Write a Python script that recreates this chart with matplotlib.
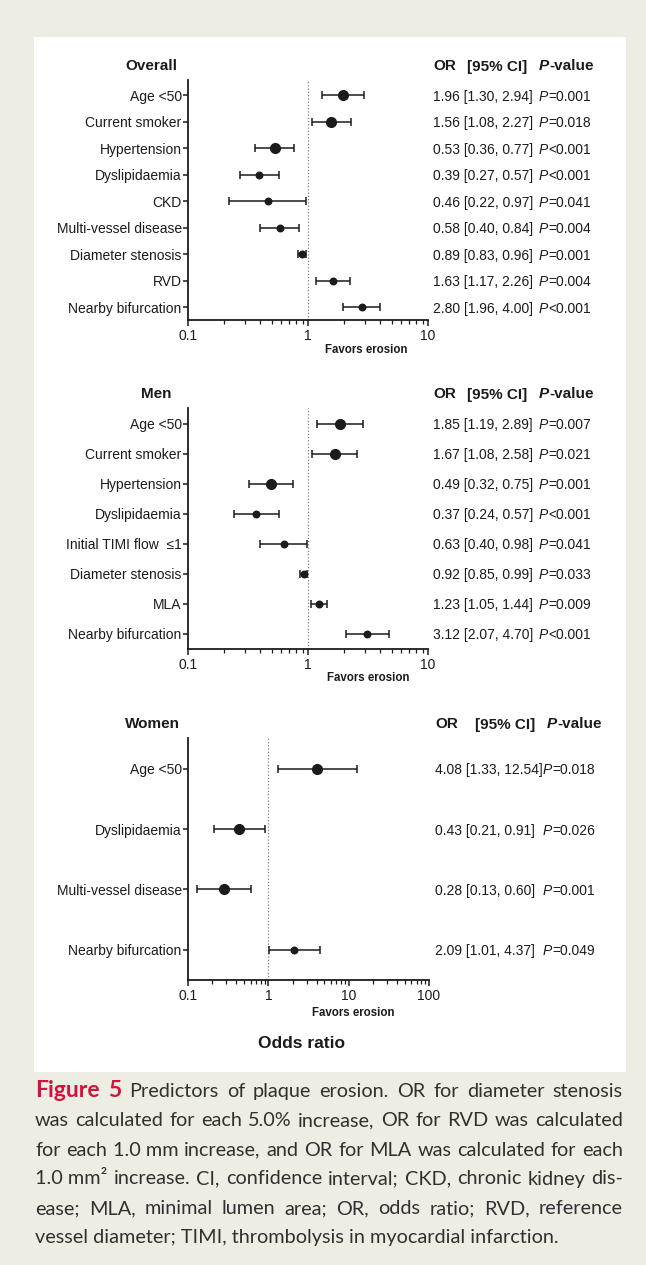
import matplotlib
matplotlib.use("Agg")
import matplotlib.pyplot as plt
from matplotlib.patches import Rectangle
from matplotlib.transforms import blended_transform_factory
from matplotlib.ticker import FixedLocator, FixedFormatter, LogLocator, NullFormatter

# ---------------- data ----------------
overall_labels = ["Age <50", "Current smoker", "Hypertension", "Dyslipidaemia", "CKD",
                  "Multi-vessel disease", "Diameter stenosis", "RVD", "Nearby bifurcation"]
overall_or = [1.96, 1.56, 0.53, 0.39, 0.46, 0.58, 0.89, 1.63, 2.80]
overall_lo = [1.30, 1.08, 0.36, 0.27, 0.22, 0.40, 0.83, 1.17, 1.96]
overall_hi = [2.94, 2.27, 0.77, 0.57, 0.97, 0.84, 0.96, 2.26, 4.00]
overall_p = ["=0.001", "=0.018", "<0.001", "<0.001", "=0.041", "=0.004", "=0.001", "=0.004", "<0.001"]

men_labels = ["Age <50", "Current smoker", "Hypertension", "Dyslipidaemia", "Initial TIMI flow  \u22641",
              "Diameter stenosis", "MLA", "Nearby bifurcation"]
men_or = [1.85, 1.67, 0.49, 0.37, 0.63, 0.92, 1.23, 3.12]
men_lo = [1.19, 1.08, 0.32, 0.24, 0.40, 0.85, 1.05, 2.07]
men_hi = [2.89, 2.58, 0.75, 0.57, 0.98, 0.99, 1.44, 4.70]
men_p = ["=0.007", "=0.021", "=0.001", "<0.001", "=0.041", "=0.033", "=0.009", "<0.001"]

women_labels = ["Age <50", "Dyslipidaemia", "Multi-vessel disease", "Nearby bifurcation"]
women_or = [4.08, 0.43, 0.28, 2.09]
women_lo = [1.33, 0.21, 0.13, 1.01]
women_hi = [12.54, 0.91, 0.60, 4.37]
women_p = ["=0.018", "=0.026", "=0.001", "=0.049"]

ticks_a = [0.1, 1, 10]
ticklabels_a = ["0.1", "1", "10"]
ticks_w = [0.1, 1, 10, 100]
ticklabels_w = ["0.1", "1", "10", "100"]

caption_lines = [
    "Predictors of plaque erosion. OR for diameter stenosis",
    "was calculated for each 5.0% increase, OR for RVD was calculated",
    "for each 1.0\u00a0mm increase, and OR for MLA was calculated for each",
    "1.0\u00a0mm\u00b2 increase. CI, confidence interval; CKD, chronic kidney dis-",
    "ease; MLA, minimal lumen area; OR, odds ratio; RVD, reference",
    "vessel diameter; TIMI, thrombolysis in myocardial infarction.",
]

# ---------------- figure ----------------
W, H = 646, 1265
plt.rcParams['font.family'] = ['Liberation Sans', 'DejaVu Sans']
INK = '#1b1b1b'
BG = '#EEEDE3'

fig = plt.figure(figsize=(W / 100, H / 100), dpi=100)
fig.patch.set_facecolor(BG)
fig.add_artist(Rectangle((34 / W, 1 - 1072 / H), (626 - 34) / W, (1072 - 37) / H,
                         transform=fig.transFigure, facecolor='white', edgecolor='none', zorder=-10))
renderer = fig.canvas.get_renderer()


def text_width(t):
    return t.get_window_extent(renderer).width


def put_seq(pieces, x_px, y, trans_y, va='center_baseline'):
    """pieces: list of (string, kwargs, min_x or None); returns end x."""
    x = x_px
    for s, kw, minx in pieces:
        if minx is not None:
            x = max(x, minx)
        tr = blended_transform_factory(fig.transFigure, trans_y)
        t = fig.text(x / W, y, s, transform=tr, va=va, ha='left', color=INK, **kw)
        x += text_width(t)
    return x


panels = [
    dict(title='Overall', labels=overall_labels, orv=overall_or, lo=overall_lo, hi=overall_hi,
         p=overall_p, box=(188, 428, 80, 320), ylim=(8.49, -0.57), xlim=(0.1, 10),
         ticks=ticks_a, tlabels=ticklabels_a, nbig=3, title_xy=(151, 65),
         head_x=(433, 467, 539), val_x=433, p_x=539, fav=(366, 350)),
    dict(title='Men', labels=men_labels, orv=men_or, lo=men_lo, hi=men_hi,
         p=men_p, box=(188, 428, 408, 649), ylim=(7.5, -0.53), xlim=(0.1, 10),
         ticks=ticks_a, tlabels=ticklabels_a, nbig=3, title_xy=(156, 393),
         head_x=(433, 467, 539), val_x=433, p_x=539, fav=(368, 678)),
    dict(title='Women', labels=women_labels, orv=women_or, lo=women_lo, hi=women_hi,
         p=women_p, box=(188, 429, 738, 980), ylim=(3.5, -0.51), xlim=(0.1, 100),
         ticks=ticks_w, tlabels=ticklabels_w, nbig=3, title_xy=(152, 723),
         head_x=(435, 475, 547), val_x=435, p_x=543, fav=(353, 1013)),
]

for P in panels:
    l, r, t, b = P['box']
    ax = fig.add_axes([l / W, 1 - b / H, (r - l) / W, (b - t) / H])
    ax.patch.set_alpha(0)
    n = len(P['labels'])
    ys = list(range(n))
    orv, lo, hi = P['orv'], P['lo'], P['hi']
    ax.set_xscale('log')
    ax.axvline(1, color='#808080', ls=(0, (1, 1.6)), lw=0.9, zorder=1)
    xerr = [[o - a for o, a in zip(orv, lo)], [c - o for o, c in zip(orv, hi)]]
    ax.errorbar(orv, ys, xerr=xerr, fmt='none', ecolor=INK, elinewidth=1.1,
                capsize=3.0, capthick=1.1, zorder=3)
    nb = P['nbig']
    ax.plot(orv[:nb], ys[:nb], 'o', color=INK, ms=7.0, zorder=4)
    ax.plot(orv[nb:], ys[nb:], 'o', color=INK, ms=4.7, zorder=4)
    ax.set_xlim(P['xlim'])
    ax.set_ylim(P['ylim'])
    for s in ['top', 'right']:
        ax.spines[s].set_visible(False)
    for s in ['left', 'bottom']:
        ax.spines[s].set_linewidth(1.3)
        ax.spines[s].set_color(INK)
    ax.set_yticks(ys)
    ax.set_yticklabels(P['labels'], fontsize=10, color=INK)
    ax.tick_params(axis='y', length=3.5, width=1.1, pad=1, color=INK)
    ax.xaxis.set_major_locator(FixedLocator(P['ticks']))
    ax.xaxis.set_major_formatter(FixedFormatter(P['tlabels']))
    ax.xaxis.set_minor_locator(LogLocator(base=10, subs=range(2, 10), numticks=20))
    ax.xaxis.set_minor_formatter(NullFormatter())
    ax.tick_params(axis='x', which='major', length=4.5, width=1.1, pad=2, labelsize=10,
                   color=INK, labelcolor=INK)
    ax.tick_params(axis='x', which='minor', length=2.6, width=0.9, color=INK)

    # title
    tx, ty = P['title_xy']
    fig.text(tx / W, 1 - ty / H, P['title'], ha='center', va='center_baseline',
             fontsize=11, fontweight='bold', color=INK)
    # header
    hx = P['head_x']
    hy = 1 - ty / H
    fig.text(hx[0] / W, hy, "OR", ha='left', va='center_baseline', fontsize=11,
             fontweight='bold', color=INK)
    fig.text(hx[1] / W, hy, "[95% CI]", ha='left', va='center_baseline', fontsize=11,
             fontweight='bold', color=INK)
    put_seq([("P", dict(fontsize=11, fontweight='bold', fontstyle='italic'), None),
             ("-value", dict(fontsize=11, fontweight='bold'), None)],
            hx[2], hy, fig.transFigure)
    # values
    for i in range(n):
        ci = f"{orv[i]:.2f} [{lo[i]:.2f}, {hi[i]:.2f}]"
        put_seq([(ci, dict(fontsize=10), None),
                 ("P", dict(fontsize=10, fontstyle='italic'), P['p_x']),
                 (P['p'][i], dict(fontsize=10), None)],
                P['val_x'], i, ax.transData)
    fx, fy = P['fav']
    fig.text(fx / W, 1 - fy / H, "Favors erosion", ha='center', va='center',
             fontsize=8.3, fontweight='bold', color=INK)

fig.text(302 / W, 1 - 1043 / H, "Odds ratio", ha='center', va='center',
         fontsize=12.5, fontweight='bold', color=INK)

# ---------------- caption (justified) ----------------
CAP_FONT = ['Lato', 'DejaVu Sans']
CAP_SIZE = 14.3
CAP_COLOR = '#303030'
RED = '#D2123F'
x0, x1 = 35, 623
baselines = [1097, 1126, 1155.5, 1184.5, 1214, 1243]
for li, (line, yb) in enumerate(zip(caption_lines, baselines)):
    if li == len(caption_lines) - 1:
        fig.text(x0 / W, 1 - yb / H, line, ha='left', va='baseline', family=CAP_FONT,
                 fontsize=CAP_SIZE, color=CAP_COLOR)
        continue
    words = []
    if li == 0:
        words.append(("Figure", dict(fontsize=16.5, fontweight='bold', color=RED)))
        words.append(("5", dict(fontsize=16.5, fontweight='bold', color=RED)))
    for w in line.split(' '):
        words.append((w, dict(fontsize=CAP_SIZE, color=CAP_COLOR)))
    arts = []
    for w, kw in words:
        a = fig.text(0, 1 - yb / H, w, ha='left', va='baseline', family=CAP_FONT, **kw)
        arts.append(a)
    widths = [text_width(a) for a in arts]
    gap = (x1 - x0 - sum(widths)) / (len(words) - 1)
    x = x0
    for k, (a, wd) in enumerate(zip(arts, widths)):
        a.set_x(x / W)
        extra = 5 if (li == 0 and k == 1) else 0
        x += wd + gap
    # keep line exactly justified

fig.savefig("out.png", dpi=100, facecolor=BG)
